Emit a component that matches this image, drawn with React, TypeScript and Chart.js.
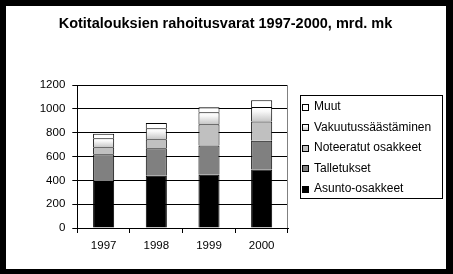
import React, { useEffect, useRef } from "react";
import { Chart, registerables } from "chart.js";

Chart.register(...registerables);

const title = "Kotitalouksien rahoitusvarat 1997-2000, mrd. mk";
const years = ["1997", "1998", "1999", "2000"];
const yTicks = [0, 200, 400, 600, 800, 1000, 1200];

const seriesNames = [
  "Asunto-osakkeet",
  "Talletukset",
  "Noteeratut osakkeet",
  "Vakuutussäästäminen",
  "Muut",
];
const asunto = [394, 438, 446, 491];
const talletukset = [224, 232, 246, 242];
const noteeratut = [59, 75, 179, 160];
const vakuutus = [76, 92, 100, 123];
const muut = [38, 45, 42, 55];

const FONT = "'Liberation Sans', Arial, sans-serif";

function makeGradient(c: CanvasRenderingContext2D, y0: number, y1: number) {
  const g = c.createLinearGradient(0, y0, 0, y1);
  g.addColorStop(0, "#ffffff");
  g.addColorStop(0.3, "#f8f8f8");
  g.addColorStop(1, "#c6c6c6");
  return g;
}

const frameLegendPlugin = {
  id: "frameLegend",
  afterDraw(chart: any) {
    const c: CanvasRenderingContext2D = chart.ctx;
    const a = chart.chartArea;
    c.save();
    // title
    c.fillStyle = "#000";
    c.font = `bold 14.5px ${FONT}`;
    c.textAlign = "center";
    c.textBaseline = "middle";
    c.fillText(title, 219.5, 17.5);

    // gray right edge of plot area
    c.strokeStyle = "#808080";
    c.lineWidth = 1;
    c.beginPath();
    const rx = Math.round(a.right) - 0.5;
    c.moveTo(rx, a.top);
    c.lineTo(rx, a.bottom);
    c.stroke();

    // legend
    const lx = 294.5, ly = 89.5, lw = 142, lh = 103;
    c.fillStyle = "#ffffff";
    c.fillRect(lx, ly, lw, lh);
    c.strokeStyle = "#000000";
    c.strokeRect(lx, ly, lw, lh);
    c.font = `12px ${FONT}`;
    c.textBaseline = "middle";
    c.textAlign = "left";
    const ds = chart.data.datasets;
    for (let k = 0; k < ds.length; k++) {
      const d = ds[ds.length - 1 - k];
      const cy = 100.5 + k * 20.5;
      const sy = Math.round(cy - 3) + 0.5;
      let fill: any = d.legendColor;
      if (d.legendGradient) fill = makeGradient(c, sy, sy + 6);
      c.fillStyle = fill;
      c.fillRect(296.5, sy, 6, 6);
      c.strokeStyle = "#000";
      c.strokeRect(296.5, sy, 6, 6);
      c.fillStyle = "#000";
      c.fillText(d.label, 308, cy + 0.5);
    }
    c.restore();
  },
};

export default function App() {
  const ref = useRef<HTMLCanvasElement>(null);

  useEffect(() => {
    if (!ref.current) return;
    const all = [asunto, talletukset, noteeratut, vakuutus, muut];
    const stackBase = (series: number, i: number) => {
      let s = 0;
      for (let k = 0; k < series; k++) s += all[k][i];
      return s;
    };
    const common = {
      borderColor: "#000000",
      borderWidth: { top: 1, left: 1, right: 1, bottom: 0 },
      borderSkipped: false,
      barPercentage: 0.4,
      categoryPercentage: 1,
    };
    const chart = new Chart(ref.current, {
      type: "bar",
      data: {
        labels: years,
        datasets: [
          { label: seriesNames[0], data: asunto, backgroundColor: "#000000", legendColor: "#000000", ...common },
          { label: seriesNames[1], data: talletukset, backgroundColor: "#808080", legendColor: "#808080", ...common },
          { label: seriesNames[2], data: noteeratut, backgroundColor: "#c0c0c0", legendColor: "#c0c0c0", ...common },
          {
            label: seriesNames[3],
            data: vakuutus,
            legendGradient: true,
            backgroundColor: (ctx: any) => {
              const ch = ctx.chart;
              const ys = ch.scales && ch.scales.y;
              if (!ys || ctx.type !== "data" || !ch.chartArea) return "#e8e8e8";
              const i = ctx.dataIndex;
              const s = stackBase(3, i);
              const e = s + vakuutus[i];
              const y0 = ys.getPixelForValue(e);
              const y1 = ys.getPixelForValue(s);
              if (!isFinite(y0) || !isFinite(y1) || y0 === y1) return "#e8e8e8";
              return makeGradient(ch.ctx, y0, y1);
            },
            ...common,
          },
          { label: seriesNames[4], data: muut, backgroundColor: "#ffffff", legendColor: "#ffffff", ...common },
        ] as any,
      },
      options: {
        responsive: false,
        devicePixelRatio: 1,
        animation: false,
        layout: { padding: { left: 0, right: 158, top: 79, bottom: 0 } },
        plugins: {
          legend: { display: false },
          tooltip: { enabled: false },
          title: { display: false },
        },
        scales: {
          x: {
            stacked: true,
            offset: true,
            afterFit: (s: any) => { s.height = 41; },
            grid: {
              offset: true,
              drawOnChartArea: false,
              drawTicks: true,
              tickLength: 5,
              color: "#000",
            },
            border: { display: true, color: "#000" },
            ticks: {
              color: "#000",
              padding: 6,
              font: { family: FONT, size: 11.5 },
              maxRotation: 0,
            },
          },
          y: {
            stacked: true,
            min: 0,
            max: 1200,
            afterFit: (s: any) => { s.width = 71.3; },
            afterBuildTicks: (s: any) => { s.ticks = yTicks.map((v) => ({ value: v })); },
            grid: { color: "#000", drawTicks: true, tickLength: 5 },
            border: { display: true, color: "#000" },
            ticks: {
              color: "#000",
              padding: 7,
              font: { family: FONT, size: 11.5 },
              callback: (v: any) => String(v),
            },
          },
        },
      } as any,
      plugins: [frameLegendPlugin],
    });
    return () => chart.destroy();
  }, []);

  return (
    <div
      style={{
        position: "absolute",
        left: 0,
        top: 0,
        width: 440,
        height: 263,
        borderStyle: "solid",
        borderColor: "#000",
        borderWidth: "6px 7px 5px 6px",
        background: "#fff",
      }}
    >
      <canvas ref={ref} width={440} height={263} style={{ display: "block", width: 440, height: 263 }} />
    </div>
  );
}
